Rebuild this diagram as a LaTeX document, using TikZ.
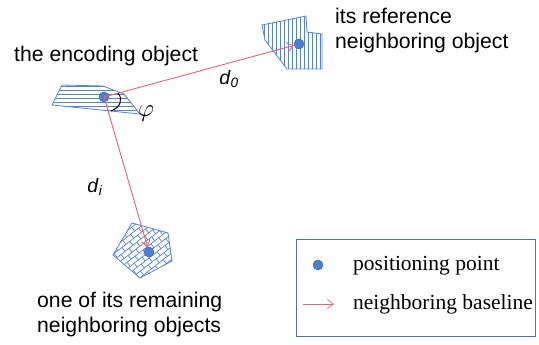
\documentclass[tikz,border=0pt]{standalone}
\usepackage{fontspec}
\setmainfont{Liberation Serif}
\setsansfont{Liberation Sans}
\usetikzlibrary{arrows.meta}
\definecolor{hatch}{RGB}{84,130,214}
\definecolor{dotc}{RGB}{74,127,212}
\definecolor{dotd}{RGB}{60,105,185}
\definecolor{arr}{RGB}{232,98,118}
\definecolor{legbox}{RGB}{80,115,180}
\tikzset{
  pdot/.style={circle,fill=dotc,draw=dotd,line width=0.5pt,minimum size=10pt,inner sep=0pt},
  baseline arrow/.style={draw=arr,line width=0.9pt,-{Straight Barb[length=6pt,width=9pt]}},
  lbl/.style={font=\sffamily\fontsize{21.2}{25}\selectfont,align=left,anchor=west,inner sep=0pt},
  leg/.style={font=\rmfamily\fontsize{21.5}{25}\selectfont,anchor=west,inner sep=0pt},
  shapeline/.style={draw=hatch,line width=0.8pt},
  hline/.style={hatch,line width=0.7pt},
}
\begin{document}
\begin{tikzpicture}[x=1pt,y=-1pt]
\useasboundingbox (0,0) rectangle (539,345);
% encoding object
\begin{scope}
  \clip (62,85) -- (103,86) -- (124,94) -- (140,114) -- (52,105) -- cycle;
  \foreach \y in {86,90,...,118} \draw[hline] (45,\y) -- (145,\y);
\end{scope}
\draw[shapeline] (62,85) -- (103,86) -- (124,94) -- (140,114) -- (52,105) -- cycle;
% reference object
\begin{scope}
  \clip (262,25) -- (306,16) -- (307,32) -- (322,34) -- (322,69) -- (287,69) -- (265,40) -- cycle;
  \foreach \x in {264,268,...,324} \draw[hline] (\x,10) -- (\x,75);
\end{scope}
\draw[shapeline] (262,25) -- (306,16) -- (307,32) -- (322,34) -- (322,69) -- (287,69) -- (265,40) -- cycle;
% remaining object with bricks
\begin{scope}
  \clip (132,223) -- (168,233) -- (172,261) -- (140,278) -- (113,255) -- cycle;
  \begin{scope}[shift={(143,250)},rotate=38]
    \foreach \r in {-10,...,10}{
      \draw[hline] (-60,\r*5) -- (60,\r*5);
      \foreach \c in {-6,...,6}{
        \pgfmathsetmacro{\off}{mod(abs(\r),2)*5}
        \draw[hline] (\c*10+\off,\r*5) -- (\c*10+\off,\r*5+5);
      }
    }
  \end{scope}
\end{scope}
\draw[shapeline] (132,223) -- (168,233) -- (172,261) -- (140,278) -- (113,255) -- cycle;
% positioning points
\node[pdot] (enc) at (104,97) {};
\node[pdot] (ref) at (299,44) {};
\node[pdot] (rem) at (149,252) {};
% baselines
\draw[baseline arrow] (enc.center) -- (ref);
\draw[baseline arrow] (enc.center) -- (rem);
% angle
\coordinate (a1) at (118,93);
\coordinate (a2) at (111,111);
\draw[black,line width=1pt] (a1) .. controls (123,99) and (121,107) .. (a2);
% labels
\node[font=\fontsize{23}{25}\selectfont,inner sep=0pt] (phi) at (146,114) {$\varphi$};
\node[font=\sffamily\fontsize{19.5}{22}\selectfont,inner sep=0pt] (d0) at (229,79) {\textit{d}\textsubscript{\textit{0}}};
\node[font=\sffamily\fontsize{19.5}{22}\selectfont,inner sep=0pt] (di) at (95,187) {\textit{d}\textsubscript{\textit{i}}};
\node[lbl] (enclbl) at (14,56) {the encoding object};
\node[lbl] (reflbl) at (335,31) {its reference\\neighboring object};
\node[lbl] (remlbl) at (37,315) {one of its remaining\\neighboring objects};
% legend
\node[draw=legbox,line width=0.8pt,minimum width=239pt,minimum height=97pt,anchor=north west,inner sep=0pt] (legend) at (296,239) {};
\node[pdot] (legdot) at (318,265) {};
\coordinate (la) at (303,304);
\coordinate (lb) at (334,304);
\draw[baseline arrow,line width=0.7pt] (la) -- (lb);
\node[leg] (legt1) at (353,266) {positioning point};
\node[leg] (legt2) at (353,304) {neighboring baseline};
\end{tikzpicture}
\end{document}
